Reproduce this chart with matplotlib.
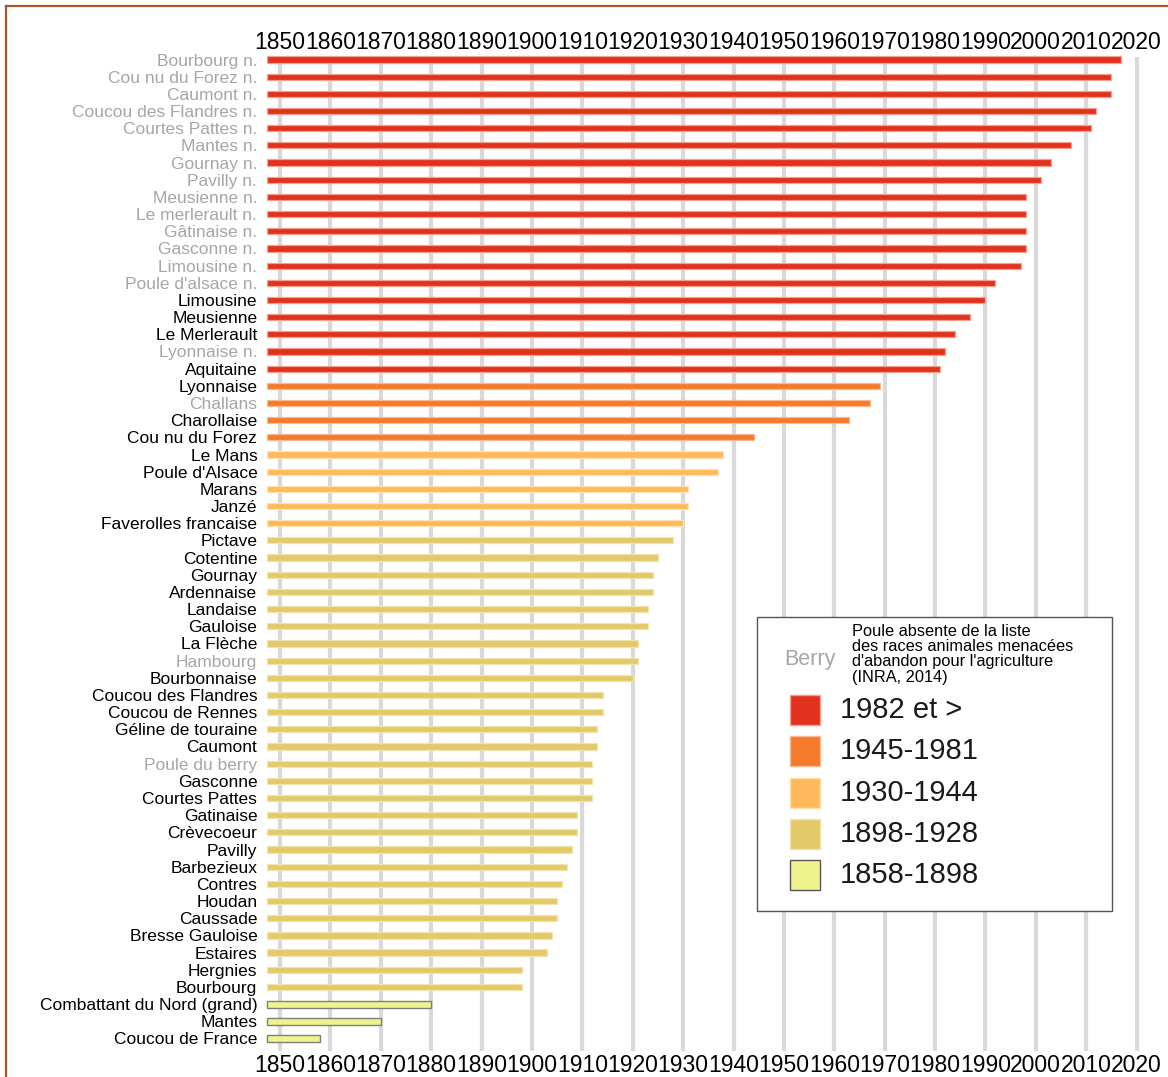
import matplotlib
matplotlib.use("Agg")
import matplotlib.pyplot as plt
from matplotlib.patches import Rectangle
from matplotlib.lines import Line2D

plt.rcParams['font.family'] = ['Liberation Sans', 'DejaVu Sans']

races = ["Bourbourg n.", "Cou nu du Forez n.", "Caumont n.", "Coucou des Flandres n.",
         "Courtes Pattes n.", "Mantes n.", "Gournay n.", "Pavilly n.", "Meusienne n.",
         "Le merlerault n.", "Gâtinaise n.", "Gasconne n.", "Limousine n.", "Poule d'alsace n.",
         "Limousine", "Meusienne", "Le Merlerault", "Lyonnaise n.", "Aquitaine",
         "Lyonnaise", "Challans", "Charollaise", "Cou nu du Forez",
         "Le Mans", "Poule d'Alsace", "Marans", "Janzé", "Faverolles francaise",
         "Pictave", "Cotentine", "Gournay", "Ardennaise", "Landaise", "Gauloise",
         "La Flèche", "Hambourg", "Bourbonnaise", "Coucou des Flandres", "Coucou de Rennes",
         "Géline de touraine", "Caumont", "Poule du berry", "Gasconne", "Courtes Pattes",
         "Gatinaise", "Crèvecoeur", "Pavilly", "Barbezieux", "Contres", "Houdan",
         "Caussade", "Bresse Gauloise", "Estaires", "Hergnies", "Bourbourg",
         "Combattant du Nord (grand)", "Mantes", "Coucou de France"]

annees = [2017, 2015, 2015, 2012, 2011, 2007, 2003, 2001, 1998, 1998, 1998, 1998, 1997, 1992,
          1990, 1987, 1984, 1982, 1981,
          1969, 1967, 1963, 1944,
          1938, 1937, 1931, 1931, 1930,
          1928, 1925, 1924, 1924, 1923, 1923, 1921, 1921, 1920, 1914, 1914, 1913, 1913,
          1912, 1912, 1912, 1909, 1909, 1908, 1907, 1906, 1905, 1905, 1904, 1903, 1898, 1898,
          1880, 1870, 1858]

# periode de chaque race (index dans periodes)
classe = [0] * 19 + [1] * 4 + [2] * 5 + [3] * 27 + [4] * 3

# races absentes de la liste INRA 2014 (label gris)
absentes = list(range(14)) + [17, 20, 35, 41]

periodes = ["1982 et >", "1945-1981", "1930-1944", "1898-1928", "1858-1898"]
couleurs = ["#e2311d", "#f47b2b", "#ffb95a", "#e3c968", "#eef38e"]
bords = ["#f4a08f", "#f9b98c", "#ffe0b0", "#f2e4b0", "#7f7f7f"]

W, H = 1168, 1077
fig = plt.figure(figsize=(W / 100, H / 100), dpi=100)

def fx(x):
    return x / W

def fy(y):
    return 1 - y / H

x0 = 1847.4
x1 = 2022
ax = fig.add_axes([fx(267), fy(1051), fx(1146.6) - fx(267), fy(57) - fy(1051)])

for i in range(len(races)):
    c = classe[i]
    h = 0.42 if c == 4 else 0.36
    lw = 1.0 if c == 4 else 0.9
    ax.barh(i, annees[i] - x0, left=x0, height=h, color=couleurs[c],
            edgecolor=bords[c], linewidth=lw, zorder=3, clip_on=False)

ax.set_xlim(x0, x1)
ax.set_ylim(57.73, -0.146)
ax.set_xticks(range(1850, 2021, 10))
ax.set_yticks(range(len(races)))
ax.set_yticklabels(races, fontsize=12.5)
for i, lab in enumerate(ax.get_yticklabels()):
    lab.set_color("#a6a6a6" if i in absentes else "black")

ax.tick_params(axis="x", labeltop=True, labelbottom=True, length=0, labelsize=16.5, pad=2)
ax.tick_params(axis="y", length=0, pad=7)

ax.grid(axis="x", color="#d9d9d9", linewidth=3, zorder=0)
ax.set_axisbelow(True)
for s in ax.spines.values():
    s.set_visible(False)

# cadre brun
fig.add_artist(Line2D([fx(6), 1.0], [fy(6), fy(6)], color="#a0582a", linewidth=1.6))
fig.add_artist(Line2D([fx(6), fx(6)], [fy(6), 0.0], color="#a0582a", linewidth=1.6))

# legende
fig.add_artist(Rectangle((fx(757), fy(911)), fx(1112) - fx(757), fy(617) - fy(911),
                         transform=fig.transFigure, facecolor="white",
                         edgecolor="#555555", linewidth=1, zorder=5))
fig.text(fx(784), fy(659), "Berry", color="#a6a6a6", fontsize=15.5, va="center", zorder=6)
fig.text(fx(852), fy(624), "Poule absente de la liste\ndes races animales menacées\n"
         "d'abandon pour l'agriculture\n(INRA, 2014)", fontsize=11.8, va="top",
         linespacing=1.02, zorder=6)
for k, (p, c) in enumerate(zip(periodes, couleurs)):
    yc = 710 + k * 41.3
    fig.add_artist(Rectangle((fx(790), fy(yc + 15)), fx(30), 30 / H,
                             transform=fig.transFigure, facecolor=c,
                             edgecolor=bords[k] if k < 4 else "#555555",
                             linewidth=1, zorder=6))
    fig.text(fx(840), fy(yc), p, fontsize=21, va="center", color="#1a1a1a", zorder=6)

fig.savefig("out.png", dpi=100)
